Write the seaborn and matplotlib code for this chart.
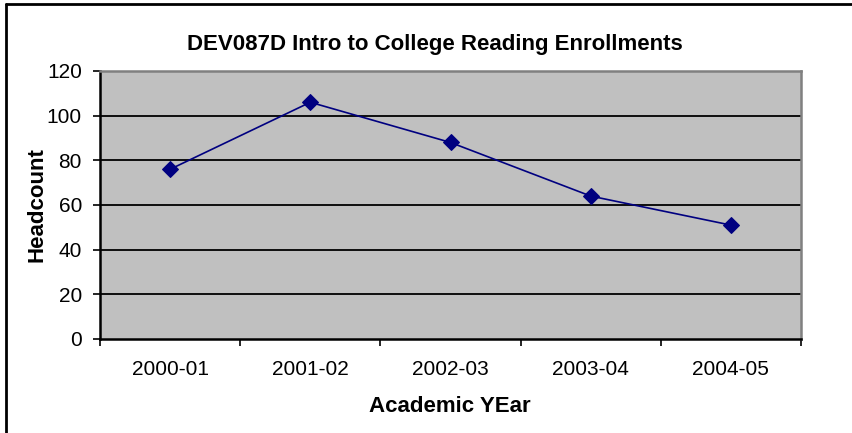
import pandas as pd
import matplotlib.pyplot as plt
import seaborn as sns

# Enrollment data
years = ["2000-01", "2001-02", "2002-03", "2003-04", "2004-05"]
headcount = [76, 106, 88, 64, 51]

df = pd.DataFrame({"year": years, "headcount": headcount})

sns.set_style("white")
plt.rcParams["font.family"] = ["Liberation Sans", "DejaVu Sans"]
plt.rcParams["text.color"] = "black"
plt.rcParams["xtick.color"] = "black"
plt.rcParams["ytick.color"] = "black"

W, H = 852, 433
fig = plt.figure(figsize=(W / 100, H / 100), dpi=100)
ax = fig.add_axes([100 / W, 1 - 339 / H, 701 / W, 268 / H])
ax.set_facecolor("#C0C0C0")

sns.lineplot(data=df, x="year", y="headcount", ax=ax, color="#000080",
             marker="D", markersize=8, markeredgecolor="#000080", linewidth=1.2)

ax.set_xlim(-0.5, 4.5)
ax.set_ylim(0, 120)
ax.set_yticks(range(0, 121, 20))
for y in range(20, 101, 20):
    ax.axhline(y, color="black", linewidth=1.3, zorder=0.5)

# category boundaries get tick marks, labels sit in between
ax.set_xticks([i - 0.5 for i in range(6)])
ax.set_xticklabels([])
ax.set_xticks(range(5), minor=True)
ax.set_xticklabels(years, minor=True, fontsize=15)
ax.tick_params(axis="x", which="major", direction="out", length=5, width=1.2, bottom=True)
ax.tick_params(axis="x", which="minor", length=0, pad=15)
ax.tick_params(axis="y", direction="out", length=5, width=1.2, left=True, labelsize=15, pad=8)

ax.spines["left"].set_color("black")
ax.spines["bottom"].set_color("black")
ax.spines["top"].set_color("#808080")
ax.spines["right"].set_color("#808080")
for s in ax.spines.values():
    s.set_linewidth(1.8)
ax.set_xlabel("")
ax.set_ylabel("")

# titles placed like the Excel chart
fig.text(435 / W, 1 - 50 / H, "DEV087D Intro to College Reading Enrollments",
         fontsize=16, fontweight="bold", ha="center", va="baseline")
fig.text(450 / W, 1 - 412 / H, "Academic YEar",
         fontsize=16, fontweight="bold", ha="center", va="baseline")
fig.text(37 / W, 1 - 205 / H, "Headcount", rotation=90,
         fontsize=16, fontweight="bold", ha="center", va="center")

# chart border (top and left edges show)
fig.add_artist(plt.Line2D([6 / W, 6 / W], [0, 1 - 4 / H], color="black", linewidth=2))
fig.add_artist(plt.Line2D([6 / W, 1], [1 - 4 / H, 1 - 4 / H], color="black", linewidth=2))

plt.savefig("out.png", dpi=100)
